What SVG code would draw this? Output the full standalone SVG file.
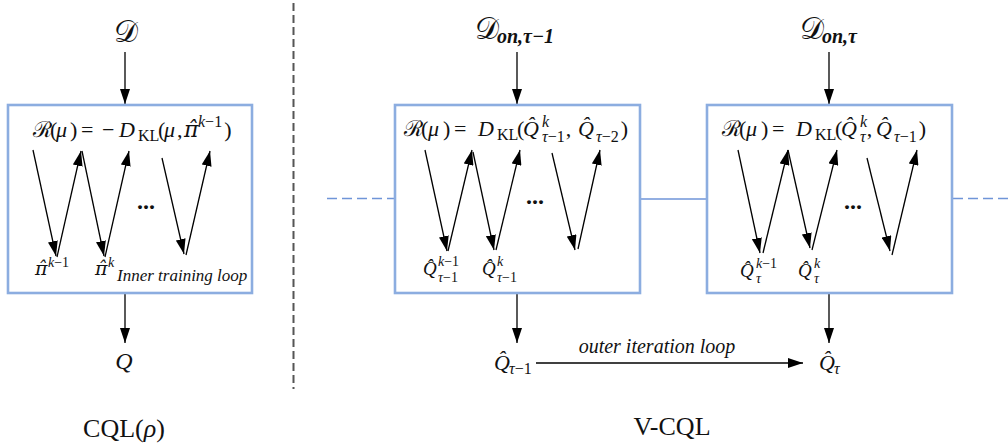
<svg xmlns="http://www.w3.org/2000/svg" width="1008" height="443" viewBox="0 0 1008 443">
<style>
.box{fill:#fff;stroke:#8cade0;stroke-width:2.6}
.ln{stroke:#000;stroke-width:1.3;fill:none}
.mt{font-family:"Liberation Serif","DejaVu Serif",serif;font-size:22px;fill:#111}
.lb{font-family:"Liberation Serif","DejaVu Serif",serif;font-size:19px;fill:#111}
.it{font-style:italic}
.sm{font-size:16px}
.xs{font-size:14px}
.pi{font-family:"DejaVu Serif",serif;font-style:italic}
.dots{font-family:"Liberation Serif",serif;font-size:24px;fill:#111;font-weight:bold}
.lab{font-family:"Liberation Serif",serif;font-style:italic;fill:#111}
.cap{font-family:"Liberation Serif",serif;font-size:26px;fill:#111}
.cal{font-family:"DejaVu Serif","Liberation Serif",serif;font-size:30px;fill:#111}
.bsub{font-family:"Liberation Serif",serif;font-size:20px;font-weight:bold;font-style:italic;fill:#111}
</style>
<defs>
<marker id="ah" markerUnits="userSpaceOnUse" markerWidth="15" markerHeight="10" refX="15" refY="5" orient="auto">
<path d="M0,0 L15,5 L0,10 z" fill="#000"/>
</marker>
</defs>

<g id="divider">
<line x1="293.5" y1="3" x2="293.5" y2="389" stroke="#555" stroke-width="2" stroke-dasharray="8,4"/>
</g>

<g id="connectors">
<line class="ln" x1="125" y1="52" x2="125" y2="104" marker-end="url(#ah)"/>
<line class="ln" x1="125" y1="294" x2="125" y2="343" marker-end="url(#ah)"/>
<line class="ln" x1="517" y1="52" x2="517" y2="104" marker-end="url(#ah)"/>
<line class="ln" x1="517" y1="294" x2="517" y2="343" marker-end="url(#ah)"/>
<line class="ln" x1="829" y1="52" x2="829" y2="104" marker-end="url(#ah)"/>
<line class="ln" x1="829" y1="294" x2="829" y2="343" marker-end="url(#ah)"/>
<line class="ln" x1="536" y1="363" x2="803" y2="363" marker-end="url(#ah)"/>
<line x1="327" y1="198.5" x2="395" y2="198.5" stroke="#6f95d8" stroke-width="1.5" stroke-dasharray="10,5"/>
<line x1="640" y1="199" x2="707" y2="199" stroke="#6f95d8" stroke-width="1.5"/>
<line x1="953" y1="198.5" x2="1008" y2="198.5" stroke="#6f95d8" stroke-width="1.5" stroke-dasharray="10,5"/>
</g>

<g id="cql-input">
<text class="cal" x="126" y="42" text-anchor="middle">𝒟</text>
</g>

<g id="cql-box">
<rect class="box" x="8" y="105" width="244" height="188"/>
<text class="mt" y="137"><tspan x="33">ℛ</tspan><tspan x="50">(</tspan><tspan x="56" class="it">μ</tspan><tspan x="70">)</tspan><tspan x="81">=</tspan><tspan x="102">−</tspan><tspan x="119" class="it">D</tspan><tspan x="138" y="141" class="sm">KL</tspan><tspan x="158" y="137">(</tspan><tspan x="164" class="it">μ</tspan><tspan x="177">,</tspan><tspan x="184" class="pi">π̂</tspan><tspan x="198" y="127" class="sm it">k</tspan><tspan class="sm">−1</tspan><tspan y="137" dx="2">)</tspan></text>
<line class="ln" x1="33" y1="150" x2="56" y2="256" marker-end="url(#ah)"/>
<line class="ln" x1="57" y1="257" x2="81" y2="151" marker-end="url(#ah)"/>
<line class="ln" x1="82" y1="151" x2="104" y2="256" marker-end="url(#ah)"/>
<line class="ln" x1="105" y1="257" x2="129" y2="151" marker-end="url(#ah)"/>
<text class="dots" x="137" y="209">...</text>
<line class="ln" x1="162" y1="158" x2="184" y2="254" marker-end="url(#ah)"/>
<line class="ln" x1="186" y1="255" x2="210" y2="151" marker-end="url(#ah)"/>
<text class="lb" y="275"><tspan x="35" class="pi">π̂</tspan><tspan x="48" y="267" class="xs it">k</tspan><tspan class="xs">−1</tspan><tspan x="95" y="275" class="pi">π̂</tspan><tspan x="108" y="267" class="xs it">k</tspan></text>
<text class="lab" x="117" y="281" style="font-size:17px">Inner training loop</text>
</g>

<g id="cql-output">
<text class="mt it" x="124" y="369" text-anchor="middle" style="font-size:24px">Q</text>
</g>

<g id="cql-title">
<text class="cap" x="124" y="437" text-anchor="middle">CQL(<tspan class="it">ρ</tspan>)</text>
</g>

<g id="vcql-input-prev">
<text class="cal" x="475" y="39">𝒟</text>
<text class="bsub" x="497" y="43">on,τ−1</text>
</g>

<g id="vcql-box-prev">
<rect class="box" x="395" y="105" width="245" height="188"/>
<text class="mt" y="136"><tspan x="404">ℛ</tspan><tspan x="421">(</tspan><tspan x="428" class="it">μ</tspan><tspan x="443">)</tspan><tspan x="454">=</tspan><tspan x="478" class="it">D</tspan><tspan x="497" y="140" class="sm">KL</tspan><tspan x="517" y="136">(</tspan><tspan x="523" class="it">Q̂</tspan><tspan x="542" y="127" class="sm it">k</tspan><tspan x="542" y="142" class="sm it">τ</tspan><tspan class="sm">−1</tspan><tspan y="136" dx="1">,</tspan><tspan x="578" class="it">Q̂</tspan><tspan x="596" y="142" class="sm it">τ</tspan><tspan class="sm">−2</tspan><tspan y="136" dx="2">)</tspan></text>
<line class="ln" x1="425" y1="150" x2="447" y2="251" marker-end="url(#ah)"/>
<line class="ln" x1="448" y1="251" x2="472" y2="150" marker-end="url(#ah)"/>
<line class="ln" x1="473" y1="152" x2="494" y2="250" marker-end="url(#ah)"/>
<line class="ln" x1="496" y1="250" x2="520" y2="150" marker-end="url(#ah)"/>
<text class="dots" x="526" y="204">...</text>
<line class="ln" x1="552" y1="153" x2="575" y2="250" marker-end="url(#ah)"/>
<line class="ln" x1="578" y1="249" x2="600" y2="150" marker-end="url(#ah)"/>
<text class="lb" y="275"><tspan x="423" class="it">Q̂</tspan><tspan x="438" y="266" class="xs it">k</tspan><tspan class="xs">−1</tspan><tspan x="438" y="282" class="xs it">τ</tspan><tspan class="xs">−1</tspan><tspan x="482" y="275" class="it">Q̂</tspan><tspan x="497" y="266" class="xs it">k</tspan><tspan x="497" y="282" class="xs it">τ</tspan><tspan class="xs">−1</tspan></text>
</g>

<g id="vcql-output-prev">
<text class="mt" y="370"><tspan x="494" class="it">Q̂</tspan><tspan x="509" y="374" class="it" style="font-size:16px">τ</tspan><tspan style="font-size:16px">−1</tspan></text>
</g>

<g id="outer-loop-label">
<text class="lab" x="657" y="353" text-anchor="middle" style="font-size:20px">outer iteration loop</text>
</g>

<g id="vcql-input-cur">
<text class="cal" x="800" y="39">𝒟</text>
<text class="bsub" x="822" y="43">on,τ</text>
</g>

<g id="vcql-box-cur">
<rect class="box" x="707" y="105" width="245" height="188"/>
<text class="mt" y="136"><tspan x="722">ℛ</tspan><tspan x="739">(</tspan><tspan x="746" class="it">μ</tspan><tspan x="761">)</tspan><tspan x="772">=</tspan><tspan x="796" class="it">D</tspan><tspan x="815" y="140" class="sm">KL</tspan><tspan x="835" y="136">(</tspan><tspan x="841" class="it">Q̂</tspan><tspan x="860" y="127" class="sm it">k</tspan><tspan x="860" y="142" class="sm it">τ</tspan><tspan y="136" dx="1">,</tspan><tspan x="876" class="it">Q̂</tspan><tspan x="894" y="142" class="sm it">τ</tspan><tspan class="sm">−1</tspan><tspan y="136" dx="2">)</tspan></text>
<line class="ln" x1="738" y1="150" x2="760" y2="253" marker-end="url(#ah)"/>
<line class="ln" x1="763" y1="253" x2="788" y2="150" marker-end="url(#ah)"/>
<line class="ln" x1="788" y1="150" x2="810" y2="248" marker-end="url(#ah)"/>
<line class="ln" x1="812" y1="250" x2="837" y2="150" marker-end="url(#ah)"/>
<text class="dots" x="844" y="209">...</text>
<line class="ln" x1="867" y1="158" x2="890" y2="251" marker-end="url(#ah)"/>
<line class="ln" x1="892" y1="255" x2="917" y2="150" marker-end="url(#ah)"/>
<text class="lb" y="277"><tspan x="740" class="it">Q̂</tspan><tspan x="756" y="268" class="xs it">k</tspan><tspan class="xs">−1</tspan><tspan x="756" y="283" class="xs it">τ</tspan><tspan x="798" y="277" class="it">Q̂</tspan><tspan x="814" y="268" class="xs it">k</tspan><tspan x="814" y="283" class="xs it">τ</tspan></text>
</g>

<g id="vcql-output-cur">
<text class="mt" y="370"><tspan x="819" class="it">Q̂</tspan><tspan x="834" y="374" class="it" style="font-size:16px">τ</tspan></text>
</g>

<g id="vcql-title">
<text class="cap" x="672" y="435" text-anchor="middle">V-CQL</text>
</g>
</svg>
